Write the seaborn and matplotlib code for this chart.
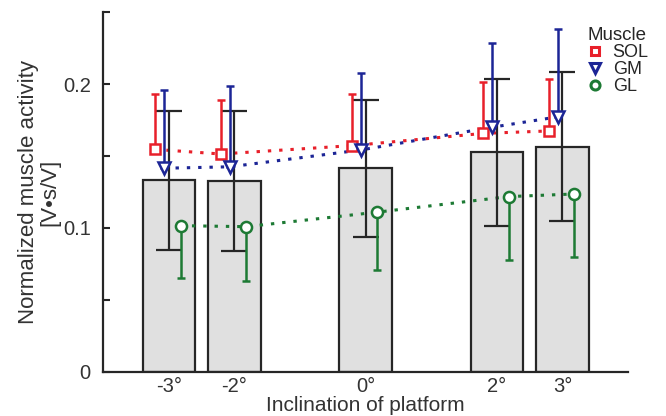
import numpy as np
import matplotlib
matplotlib.use("Agg")
import matplotlib.pyplot as plt
import seaborn as sns
from matplotlib.lines import Line2D

# ── DATOS ──────────────────────────────────────────────────
inclination = [-3, -2, 0, 2, 3]
tick_labels = ["-3°", "-2°", "0°", "2°", "3°"]

bar_mean = [0.1330, 0.1328, 0.1414, 0.1525, 0.1565]
bar_sd = [0.0485, 0.0488, 0.0477, 0.0510, 0.0520]

sol_mean = [0.1546, 0.1514, 0.1572, 0.1657, 0.1674]
sol_sd = [0.0382, 0.0376, 0.0358, 0.0357, 0.0361]

gm_mean = [0.1415, 0.1425, 0.1542, 0.1700, 0.1772]
gm_sd = [0.0543, 0.0561, 0.0538, 0.0587, 0.0608]

gl_mean = [0.1016, 0.1009, 0.1110, 0.1218, 0.1236]
gl_sd = [0.0366, 0.0375, 0.0402, 0.0440, 0.0440]

# ── ESTILO ─────────────────────────────────────────────────
sns.set_style("ticks")
plt.rcParams["font.family"] = ["Liberation Sans", "DejaVu Sans"]

dark = "#262626"
c_sol, c_gm, c_gl = "#e8202a", "#1c2596", "#1d7a34"

fig = plt.figure(figsize=(6.66, 4.16), dpi=100)
ax = fig.add_axes([0.155, 0.106, 0.788, 0.865])

# barras (media de los tres músculos)
sns.barplot(x=inclination, y=bar_mean, native_scale=True, width=0.8,
            color="#e0e0e0", saturation=1, edgecolor=dark, linewidth=1.6,
            errorbar=None, ax=ax, zorder=1)
ax.errorbar(inclination, bar_mean, yerr=bar_sd, fmt="none", ecolor=dark,
            elinewidth=1.6, capsize=9.5, capthick=1.6, zorder=3)

# músculos: (medias, sd, color, marcador, tamaño, desplazamiento, lado de la barra)
musculos = {
    "SOL": (sol_mean, sol_sd, c_sol, "s", 7, -0.21, "up"),
    "GM": (gm_mean, gm_sd, c_gm, "v", 8.5, -0.07, "up"),
    "GL": (gl_mean, gl_sd, c_gl, "o", 8, 0.18, "down"),
}

handles = []
for nombre, (media, sd, color, mk, ms, off, lado) in musculos.items():
    xs = np.array(inclination) + off
    sd = np.array(sd)
    cero = np.zeros_like(sd)
    yerr = [cero, sd] if lado == "up" else [sd, cero]
    ax.errorbar(xs, media, yerr=yerr, fmt="none", ecolor=color,
                elinewidth=1.8, capsize=3, capthick=1.8, zorder=4)
    sns.lineplot(x=xs, y=media, ax=ax, color=color, linewidth=2.2,
                 linestyle=(0, (1.1, 2.6)), zorder=2, legend=False)
    ax.plot(xs, media, linestyle="none", marker=mk, markersize=ms,
            markerfacecolor="white", markeredgecolor=color,
            markeredgewidth=1.8, zorder=5)
    handles.append(Line2D([], [], linestyle="none", marker=mk, markersize=ms - 1.5,
                          markerfacecolor="white", markeredgecolor=color,
                          markeredgewidth=2.2, label=nombre))

# ejes
ax.set_xlim(-4, 4)
ax.set_ylim(0, 0.25)
ax.set_xticks(inclination)
ax.set_xticklabels(tick_labels)
ax.set_yticks([0, 0.1, 0.2])
ax.set_yticklabels(["0", "0.1", "0.2"])
ax.set_yticks([0.05, 0.15, 0.25], minor=True)
ax.tick_params(axis="x", length=0, pad=4, labelsize=14.5, labelcolor="#333333")
ax.tick_params(axis="y", which="both", direction="in", length=5, width=1.5,
               color=dark, pad=9, labelsize=14.5, labelcolor="#333333")

for lado in ["top", "right"]:
    ax.spines[lado].set_visible(False)
for lado in ["left", "bottom"]:
    ax.spines[lado].set_linewidth(1.6)
    ax.spines[lado].set_color(dark)

ax.set_xlabel("Inclination of platform", fontsize=15, color="#333333", labelpad=0)
ax.set_ylabel("Normalized muscle activity\n[V•s/V]", fontsize=16,
              color="#333333", labelpad=2, linespacing=1.0)

fig.legend(handles=handles, title="Muscle", loc="upper left",
           bbox_to_anchor=(0.882, 0.935), frameon=False, fontsize=13,
           title_fontsize=13.5, alignment="left", handlelength=0.8,
           handletextpad=0.6, labelspacing=0.0, borderpad=0,
           borderaxespad=0)

plt.savefig("out.png", dpi=100)
